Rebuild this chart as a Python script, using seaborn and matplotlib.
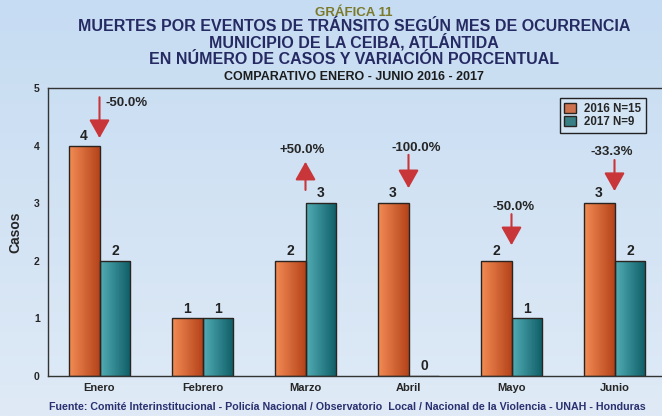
import numpy as np
import pandas as pd
import seaborn as sns
import matplotlib.pyplot as plt
from matplotlib.colors import LinearSegmentedColormap

# datos de la grafica
meses = ["Enero", "Febrero", "Marzo", "Abril", "Mayo", "Junio"]
casos_2016 = [4, 1, 2, 3, 2, 3]
casos_2017 = [2, 1, 3, 0, 1, 2]
variacion = ["-50.0%", None, "+50.0%", "-100.0%", "-50.0%", "-33.3%"]
series = ["2016 N=15", "2017 N=9"]

df = pd.DataFrame({
    "mes": meses * 2,
    "serie": [series[0]] * len(meses) + [series[1]] * len(meses),
    "casos": casos_2016 + casos_2017,
})

sns.set_style("white")
plt.rcParams["font.family"] = ["Liberation Sans", "DejaVu Sans"]
plt.rcParams["font.weight"] = "bold"

fig = plt.figure(figsize=(6.62, 4.16), dpi=100)

# fondo con degradado azul claro
bg = fig.add_axes([0, 0, 1, 1], zorder=-10)
grad = np.linspace(0, 1, 256).reshape(-1, 1)
bg.imshow(grad, aspect="auto", origin="lower", extent=[0, 1, 0, 1],
          cmap=LinearSegmentedColormap.from_list("bg", ["#dfeaf6", "#c6dcf2"]))
bg.axis("off")

ax = fig.add_axes([48 / 662, 40 / 416, 618 / 662, 288 / 416])
ax.patch.set_alpha(0)

colores = ["#e36a38", "#2b8b93"]
sns.barplot(data=df, x="mes", y="casos", hue="serie", palette=colores,
            width=0.6, edgecolor="#2a2420", linewidth=1, ax=ax)

# degradado horizontal dentro de cada barra
cmaps = [LinearSegmentedColormap.from_list("o", ["#f38c55", "#b5431a"]),
         LinearSegmentedColormap.from_list("t", ["#52adb5", "#0e5d66"])]
hgrad = np.linspace(0, 1, 64).reshape(1, -1)
for cont, cm in zip(ax.containers, cmaps):
    for bar in cont:
        h = bar.get_height()
        if h <= 0:
            continue
        x0 = bar.get_x()
        im = ax.imshow(hgrad, aspect="auto", cmap=cm,
                       extent=[x0, x0 + bar.get_width(), 0, h], zorder=1.5)
        im.set_clip_path(bar)
        bar.set_facecolor("none")
        bar.set_zorder(2)
    ax.bar_label(cont, fmt="%d", padding=2, fontsize=10, fontweight="bold",
                 color="#222222")

ax.set_xlim(-0.5, 5.5)
ax.set_ylim(0, 5)

# flechas de variacion porcentual (cola, punta, posicion del texto)
flechas = {
    0: (4.84, 4.13, 0.06, 4.74, "left"),
    2: (3.23, 3.72, -0.03, 3.92, "center"),
    3: (3.84, 3.26, 0.08, 3.96, "center"),
    4: (2.81, 2.27, 0.02, 2.93, "center"),
    5: (3.75, 3.21, -0.03, 3.89, "center"),
}
for i, txt in enumerate(variacion):
    if txt is None:
        continue
    cola, punta, dx, ty, ha = flechas[i]
    ax.annotate("", xy=(i, punta), xytext=(i, cola),
                arrowprops=dict(arrowstyle="-|>,head_length=0.8,head_width=0.45",
                                color="#c9363a", lw=1.5, shrinkA=0, shrinkB=0,
                                mutation_scale=14))
    ax.text(i + dx, ty, txt, ha=ha, va="center", fontsize=9.5,
            fontweight="bold", color="#262626")

# ejes
for s in ax.spines.values():
    s.set_color("#333333")
    s.set_linewidth(1)
ax.set_yticks(range(6))
ax.tick_params(axis="y", length=0, pad=6, labelsize=7.5)
ax.tick_params(axis="x", which="major", length=0, pad=5, labelsize=8)
ax.set_xticks(np.arange(-0.5, 6, 1), minor=True)
ax.tick_params(axis="x", which="minor", length=7, width=1, color="#333333",
               direction="out")
for lab in ax.get_xticklabels() + ax.get_yticklabels():
    lab.set_fontweight("bold")
ax.set_xlabel("")
ax.set_ylabel("Casos", fontsize=10, fontweight="bold", labelpad=8)

leg = ax.legend(loc="upper left", bbox_to_anchor=(0.828, 0.965), fontsize=8.3,
                frameon=True, fancybox=False, edgecolor="#222222",
                facecolor="#d3e4f4", framealpha=1, handlelength=1.0,
                handleheight=1.0, handletextpad=0.7, borderpad=0.4,
                labelspacing=0.1, borderaxespad=0)
leg.get_frame().set_linewidth(1)
for t in leg.get_texts():
    t.set_fontweight("bold")

# titulos
fig.text(0.535, 1 - 15.5 / 416, "GRÁFICA 11", ha="center", va="baseline",
         fontsize=9.5, fontweight="bold", color="#7b7a2c")
titulo = ["MUERTES POR EVENTOS DE TRÁNSITO SEGÚN MES DE OCURRENCIA",
          "MUNICIPIO DE LA CEIBA, ATLÁNTIDA",
          "EN NÚMERO DE CASOS Y VARIACIÓN PORCENTUAL"]
for k, linea in enumerate(titulo):
    fig.text(0.535, 1 - (31 + 16.5 * k) / 416, linea, ha="center",
             va="baseline", fontsize=11.5, fontweight="bold", color="#262a63")
fig.text(0.535, 1 - 80 / 416, "COMPARATIVO ENERO - JUNIO 2016 - 2017",
         ha="center", va="baseline", fontsize=9, fontweight="bold",
         color="#1c1c1c")
fig.text(0.524, 1 - 407 / 416,
         "Fuente: Comité Interinstitucional - Policía Nacional / Observatorio  "
         "Local / Nacional de la Violencia - UNAH - Honduras",
         ha="center", va="center", fontsize=7.7, fontweight="bold",
         color="#2a3070")

fig.savefig("out.png", dpi=100)
